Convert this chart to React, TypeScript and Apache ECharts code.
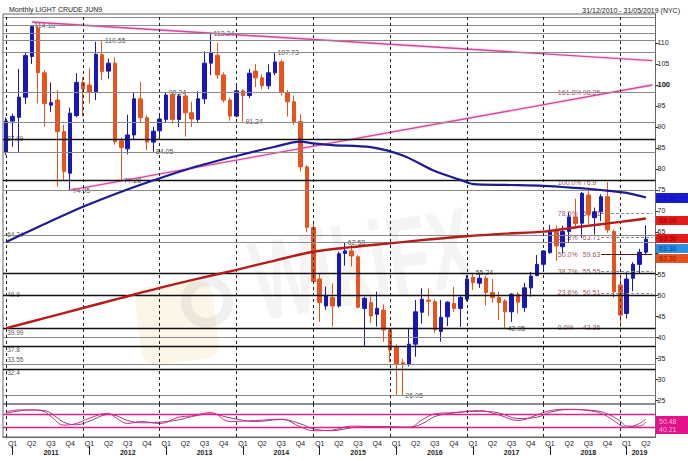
import React, { useEffect, useRef } from 'react';
import * as echarts from 'echarts';

// ---------- categories: monthly, Dec 2010 .. May 2019 ----------
const categories: string[] = [];
for (let k = 0; k < 102; k++) {
  const m = (11 + k) % 12;
  const y = 2010 + Math.floor((11 + k) / 12);
  categories.push(`${y}-${String(m + 1).padStart(2, '0')}`);
}

// ---------- candles: [open, close, low, high] ----------
const candles: number[][] = [
  [84.0, 91.4, 83.3, 92.3], [91.4, 92.5, 85.3, 93.2], [92.3, 97.1, 84.1, 103.8], [97.1, 107.0, 95.5, 107.6],
  [106.8, 113.9, 105.0, 114.0], [113.5, 102.9, 95.6, 114.18], [102.9, 95.6, 90.1, 103.5], [95.2, 95.8, 93.6, 100.6],
  [96.4, 88.9, 75.8, 98.8], [88.9, 79.4, 77.2, 90.5], [79.0, 93.3, 74.95, 94.6], [92.7, 100.6, 92.3, 102.8],
  [100.6, 99.05, 92.5, 101.8], [100.0, 98.3, 95.6, 104.0], [98.4, 107.3, 96.4, 110.3], [107.2, 103.2, 101.2, 110.55],
  [103.3, 105.2, 101.5, 106.3], [105.2, 86.5, 85.8, 106.6], [86.7, 85.1, 77.28, 87.5], [84.8, 88.1, 83.5, 92.9],
  [88.1, 96.7, 87.0, 98.3], [96.7, 92.2, 91.0, 100.8], [92.2, 86.4, 84.5, 92.8], [86.4, 89.0, 84.05, 90.0],
  [89.1, 91.9, 87.0, 93.0], [91.8, 97.6, 91.0, 98.24], [97.6, 91.8, 90.8, 98.0], [91.8, 97.4, 90.0, 97.8],
  [97.4, 93.4, 87.7, 97.8], [93.4, 91.9, 90.0, 96.0], [91.8, 96.7, 91.0, 98.5], [96.7, 105.2, 95.5, 108.0],
  [105.2, 107.7, 102.3, 112.24], [107.1, 102.4, 101.5, 110.0], [102.4, 96.4, 95.8, 103.0], [96.4, 92.6, 91.5, 97.0],
  [92.6, 98.6, 92.3, 100.0], [98.6, 97.5, 91.24, 99.0], [97.5, 102.8, 96.9, 103.8], [103.3, 101.7, 99.5, 105.0],
  [101.7, 99.8, 99.0, 102.5], [99.8, 102.9, 99.0, 104.9], [102.9, 105.5, 102.3, 107.73], [105.5, 98.2, 97.5, 106.0],
  [98.2, 96.0, 92.5, 98.8], [96.0, 91.3, 90.5, 97.5], [91.3, 80.5, 79.4, 93.1], [80.5, 66.1, 65.0, 80.9],
  [66.1, 53.2, 52.5, 67.0], [53.8, 48.2, 43.6, 55.0], [47.4, 49.8, 46.5, 52.0], [49.4, 47.4, 42.5, 52.8],
  [47.4, 59.8, 47.0, 60.3], [59.9, 60.5, 57.0, 62.58], [60.5, 59.3, 56.8, 61.9], [59.1, 47.1, 46.8, 59.5],
  [46.8, 49.2, 37.9, 49.6], [48.2, 45.0, 43.3, 49.6], [45.4, 46.8, 42.5, 50.8], [46.4, 41.7, 38.9, 47.8],
  [41.7, 36.9, 34.0, 42.0], [37.7, 33.6, 26.2, 38.3], [33.9, 33.6, 26.05, 34.8], [33.6, 38.3, 33.0, 42.0],
  [38.3, 46.0, 35.3, 48.8], [45.9, 49.0, 43.2, 51.6], [48.8, 48.5, 45.0, 51.6], [48.4, 41.7, 41.0, 49.0],
  [41.3, 44.7, 38.9, 48.8], [44.8, 48.3, 42.6, 48.5], [48.0, 46.8, 46.0, 51.9], [46.8, 49.4, 42.4, 49.8],
  [49.0, 53.8, 48.5, 54.7], [54.2, 53.0, 51.2, 55.24], [52.8, 54.0, 51.7, 54.9], [54.0, 50.6, 47.5, 54.6],
  [50.6, 49.4, 48.2, 53.8], [49.4, 48.2, 44.0, 50.8], [48.6, 46.0, 42.05, 49.0], [46.0, 50.2, 43.6, 50.4],
  [50.2, 48.3, 45.6, 50.7], [47.0, 51.7, 46.0, 52.9], [51.7, 54.5, 49.6, 55.5], [54.6, 57.3, 54.5, 59.5],
  [57.3, 60.5, 56.2, 60.6], [60.1, 65.4, 59.8, 66.7], [65.1, 61.7, 58.1, 66.6], [61.5, 65.1, 59.9, 66.5],
  [65.1, 68.6, 62.5, 69.6], [68.6, 67.0, 65.8, 72.9], [67.1, 74.2, 63.6, 74.5], [73.8, 69.2, 67.0, 75.3],
  [68.4, 69.8, 64.4, 70.8], [69.8, 73.4, 67.6, 74.0], [73.4, 65.5, 64.8, 76.9], [65.1, 50.8, 49.4, 65.6],
  [52.4, 45.2, 42.36, 54.6], [45.6, 53.8, 44.4, 55.4], [54.0, 57.3, 50.9, 57.8], [57.3, 60.2, 55.0, 61.0],
  [60.2, 63.3, 59.6, 66.6],
];

// ---------- moving averages (sampled, [monthIndex, value]) ----------
const blueMA: number[][] = [
  [0, 62.6], [6, 66.9], [12, 71.0], [18, 74.6], [24, 77.8], [30, 80.7], [36, 83.1], [42, 85.3], [46, 86.5],
  [48, 86.1], [51, 85.7], [57, 85.2], [62, 83.2], [67, 79.5], [71, 77.4], [73, 76.4], [78, 76.2], [84, 76.0],
  [89, 75.5], [93, 75.0], [97, 74.3], [100, 73.2],
];
const redMA: number[][] = [
  [0, 42.1], [6, 44.5], [12, 46.9], [18, 49.3], [24, 51.7], [30, 53.9], [36, 56.0], [42, 58.2], [48, 60.3],
  [54, 61.4], [60, 62.3], [66, 63.2], [72, 64.0], [78, 64.6], [84, 65.1], [90, 66.3], [96, 67.4], [100, 68.2],
];

// ---------- trend lines ----------
const topTrend: number[][] = [[4, 115.0], [101, 105.8]];
const riseTrend: number[][] = [[10, 74.95], [101, 100.0]];

// ---------- horizontal levels ----------
const blackLevels = [87.09, 77.28, 55.24, 49.9, 42.05, 37.8, 32.4];
const greyLevels = [116.1, 114.18, 112.24, 110.55, 107.73, 98.24, 91.24, 84.05, 74.95, 64.24, 62.58, 39.99, 33.55, 26.05];
const leftLabels = [87.09, 64.24, 49.9, 39.99, 37.8, 33.55, 32.4];
const leftAbove = [33.55, 39.99];
const leftBelow = [32.4, 37.8];
const peakLabels: [number, number][] = [
  [4, 114.18], [15, 110.55], [32, 112.24], [42, 107.73], [25, 98.24], [37, 91.24], [23, 84.05],
  [18, 77.28], [10, 74.95], [53, 62.58], [62, 26.05], [73, 55.24], [78, 42.05],
];

// ---------- Fibonacci ----------
const fibPct = ['161.8%', '100.0%', '78.6%', '61.8%', '50.0%', '38.2%', '23.6%', '0.0%'];
const fibVal = [98.25, 76.9, 69.51, 63.71, 59.63, 55.55, 50.51, 42.36];
const fibDashed = [69.51, 63.71, 55.55, 50.51];
const fibSolid = [59.63];

// ---------- oscillator (sampled) ----------
const oscK: number[][] = [
  [0, 76], [2, 82], [4, 82], [6, 77], [7, 62], [9, 36], [11, 41], [13, 57], [16, 72], [17, 60], [19, 41],
  [21, 47], [24, 41], [27, 60], [29, 64], [32, 74], [35, 47], [39, 50], [43, 54], [46, 31], [48, 19], [51, 21],
  [54, 33], [58, 31], [63, 29], [65, 52], [67, 70], [70, 74], [74, 80], [77, 67], [80, 50], [83, 67], [85, 80],
  [88, 84], [92, 77], [94, 62], [96, 36], [97, 29], [99, 41], [100, 54],
];
const oscD: number[][] = [
  [0, 72], [2, 79], [4, 82], [6, 80], [7, 72], [9, 45], [11, 37], [13, 48], [16, 68], [17, 66], [19, 50],
  [21, 43], [24, 45], [27, 52], [29, 62], [32, 70], [35, 58], [39, 47], [43, 53], [46, 40], [48, 25], [51, 19],
  [54, 28], [58, 32], [63, 30], [65, 40], [67, 62], [70, 73], [74, 78], [77, 73], [80, 56], [83, 60], [85, 75],
  [88, 83], [92, 80], [94, 70], [96, 48], [97, 33], [99, 33], [100, 45],
];
const oscLevels = [70, 30];

const priceTicks = [25, 30, 35, 40, 45, 50, 55, 60, 65, 70, 75, 80, 85, 90, 95, 100, 105, 110];
const priceLabels = [25, 30, 35, 40, 45, 50, 55, 65, 70, 75, 80, 85, 90, 95, 100, 105, 110];

const decIdx = [0, 12, 24, 36, 48, 60, 72, 84, 96];

const FONT = '"Liberation Sans", Arial, sans-serif';

export default function App() {
  const ref = useRef<HTMLDivElement>(null);
  useEffect(() => {
    document.body.style.margin = '0';
    const chart = echarts.init(ref.current!, null, { renderer: 'svg' });
    const month = (i: number) => parseInt(categories[i].slice(5), 10);
    const year = (i: number) => categories[i].slice(0, 4);

    const yearLines = decIdx.map((i) => ({ xAxis: categories[i] }));

    const hLines = [
      ...blackLevels.map((v) => ({ yAxis: v, lineStyle: { color: '#111', width: 1.4, type: 'solid' } })),
      ...greyLevels.map((v) => ({ yAxis: v, lineStyle: { color: '#8a8a8a', width: 1, type: 'solid' } })),
    ];
    const fibLines: any[] = [
      ...fibDashed.map((v) => [
        { coord: [categories[93], v], lineStyle: { color: '#888', width: 1, type: [3, 2] } },
        { coord: [categories[101], v] },
      ]),
      ...fibSolid.map((v) => [
        { coord: [categories[93], v], lineStyle: { color: '#5a1414', width: 1.2, type: 'solid' } },
        { coord: [categories[101], v] },
      ]),
    ];

    const leftPos = (v: number): any =>
      leftAbove.includes(v) ? [1.5, -8] : leftBelow.includes(v) ? [1.5, 0.5] : [1.5, -4];

    const labelData: any[] = [
      ...peakLabels.map(([i, v]) => ({
        value: [i, v],
        label: { formatter: v.toFixed(2), position: 'right', distance: 1 },
      })),
      ...leftLabels.map((v) => ({
        value: [0, v],
        label: {
          formatter: String(v), position: leftPos(v), align: 'left', verticalAlign: 'top',
          backgroundColor: 'transparent', padding: 0, fontSize: 6.5,
        },
      })),
      ...fibPct.map((p, k) => ({
        value: [86, fibVal[k]],
        label: {
          formatter: `{a|${p}}{b|${fibVal[k]}}`,
          position: 'right',
          distance: 0,
          backgroundColor: 'transparent',
          rich: {
            a: { width: 25, color: '#8b1c2c', fontSize: 7, fontFamily: FONT },
            b: { color: '#8b1c2c', fontSize: 7, fontFamily: FONT },
          },
        },
      })),
    ];

    const option: any = {
      animation: false,
      backgroundColor: '#ffffff',
      title: [
        { text: 'Monthly LIGHT CRUDE JUN9', left: 4, top: 1, textStyle: { fontSize: 7, fontWeight: 'normal', color: '#222', fontFamily: FONT } },
        { text: '31/12/2010 - 31/05/2019 (NYC)', right: 3, top: 2, textStyle: { fontSize: 7, fontWeight: 'normal', color: '#222', fontFamily: FONT } },
      ],
      grid: [
        { left: 3, right: 32.5, top: 14, height: 390, show: true, borderColor: '#666', borderWidth: 1, backgroundColor: 'transparent' },
        { left: 3, right: 32.5, top: 404, height: 33, show: true, borderColor: '#666', borderWidth: 1, backgroundColor: 'transparent' },
      ],
      xAxis: [
        {
          type: 'category', gridIndex: 0, data: categories, boundaryGap: true,
          axisLine: { show: false }, axisTick: { show: false }, axisLabel: { show: false }, splitLine: { show: false },
        },
        {
          type: 'category', gridIndex: 1, data: categories, boundaryGap: true, position: 'bottom',
          axisLine: { show: true, lineStyle: { color: '#666' } }, axisTick: { show: false },
          axisLabel: {
            interval: 0, margin: 3, fontSize: 7, color: '#222', fontFamily: FONT,
            formatter: (_v: string, i: number) => {
              const m = month(i);
              return m === 1 ? 'Q1' : m === 4 ? 'Q2' : m === 7 ? 'Q3' : m === 10 ? 'Q4' : '';
            },
          },
        },
        {
          type: 'category', gridIndex: 1, data: categories, boundaryGap: true, position: 'bottom', offset: 9,
          axisLine: { show: false },
          axisTick: { show: true, alignWithLabel: true, length: 9, interval: (i: number) => month(i) === 1, lineStyle: { color: '#222' } },
          axisLabel: {
            interval: 0, margin: 3, fontSize: 7, fontWeight: 'bold', color: '#222', fontFamily: FONT,
            formatter: (_v: string, i: number) => {
              const y = year(i);
              const target = y === '2019' ? 3 : 7;
              return month(i) === target ? y : '';
            },
          },
        },
      ],
      yAxis: [
        {
          type: 'value', gridIndex: 0, position: 'right', min: 24.05, max: 116.9, scale: true,
          axisLine: { show: true, lineStyle: { color: '#666' } },
          axisTick: { show: true, length: 3, lineStyle: { color: '#333' }, customValues: priceTicks },
          axisLabel: {
            margin: 2, fontSize: 7, color: '#222', fontFamily: FONT,
            customValues: priceLabels,
            formatter: (v: number) => (v === 100 ? '{b|100}' : String(v)),
            rich: { b: { fontWeight: 'bold', fontSize: 7.5, color: '#111', fontFamily: FONT } },
          },
          splitLine: { show: false },
        },
        {
          type: 'value', gridIndex: 1, position: 'right', min: 0, max: 100,
          axisLine: { show: false }, axisTick: { show: false }, axisLabel: { show: false }, splitLine: { show: false },
        },
      ],
      series: [
        {
          type: 'scatter', name: 'labels', xAxisIndex: 0, yAxisIndex: 0, z: 1,
          symbolSize: 1, itemStyle: { color: 'rgba(0,0,0,0)' }, silent: true,
          label: { show: true, fontSize: 7, color: '#1a1a1a', fontFamily: FONT, backgroundColor: '#fff', padding: [0, 1] },
          labelLayout: { hideOverlap: false },
          data: labelData,
          markLine: {
            silent: true, symbol: ['none', 'none'], label: { show: false },
            data: [
              ...hLines,
              ...fibLines,
              ...yearLines.map((d) => ({ ...d, lineStyle: { color: '#222', width: 1, type: [3, 3] } })),
            ],
          },
        },
        {
          type: 'candlestick', name: 'price', xAxisIndex: 0, yAxisIndex: 0, z: 3, barWidth: 4,
          data: candles,
          itemStyle: { color: '#1818b8', color0: '#e6531d', borderColor: '#1818b8', borderColor0: '#e6531d', borderWidth: 1 },
        },
        {
          type: 'line', name: 'trendTop', xAxisIndex: 0, yAxisIndex: 0, z: 4, data: topTrend,
          symbol: 'none', lineStyle: { color: '#d24a9c', width: 1.4, shadowColor: 'rgba(230,120,190,0.6)', shadowBlur: 2 },
        },
        {
          type: 'line', name: 'trendRise', xAxisIndex: 0, yAxisIndex: 0, z: 4, data: riseTrend,
          symbol: 'none', lineStyle: { color: '#d24a9c', width: 1.3, shadowColor: 'rgba(230,120,190,0.6)', shadowBlur: 2 },
        },
        {
          type: 'line', name: 'maBlue', xAxisIndex: 0, yAxisIndex: 0, z: 5, data: blueMA, smooth: 0.3,
          symbol: 'none', lineStyle: { color: '#1b1b92', width: 2.2 },
        },
        {
          type: 'line', name: 'maRed', xAxisIndex: 0, yAxisIndex: 0, z: 5, data: redMA, smooth: 0.3,
          symbol: 'none', lineStyle: { color: '#b51d1d', width: 2.4 },
        },
        {
          type: 'line', name: 'oscD', xAxisIndex: 1, yAxisIndex: 1, z: 3, data: oscD, smooth: 0.4,
          symbol: 'none', lineStyle: { color: '#5c1f55', width: 0.8 },
          markLine: {
            silent: true, symbol: ['none', 'none'], label: { show: false },
            data: [
              ...oscLevels.map((v) => ({ yAxis: v, lineStyle: { color: '#e0208a', width: 1.3, type: 'solid' } })),
              ...yearLines.map((d) => ({ ...d, lineStyle: { color: '#222', width: 1, type: [3, 3] } })),
            ],
          },
        },
        {
          type: 'line', name: 'oscK', xAxisIndex: 1, yAxisIndex: 1, z: 4, data: oscK, smooth: 0.4,
          symbol: 'none', lineStyle: { color: '#e0208a', width: 1 },
        },
      ],
      graphic: [
        // watermark
        {
          type: 'rect', x: 168, y: 262, shape: { width: 78, height: 78, r: 14 }, rotation: 0.12, originX: 207, originY: 301,
          style: { fill: 'rgba(238,200,110,0.16)' }, z: 0, silent: true,
        },
        {
          type: 'ring', shape: { cx: 207, cy: 302, r: 26, r0: 16 }, style: { fill: 'rgba(90,90,90,0.09)' }, z: 0, silent: true,
        },
        {
          type: 'text', x: 262, y: 338, rotation: 0.17, scaleX: 0.6, z: 0, silent: true,
          style: { text: 'WikiFX', font: `bold 112px ${FONT}`, fill: 'rgba(60,60,60,0.06)', verticalAlign: 'bottom' },
        },
        // price boxes
        ...[
          { y: 193, h: 10, fill: '#1a1ad6', text: '73.31', color: '#0c0c90' },
          { y: 216, h: 9, fill: '#e31b1b', text: '68.00', color: '#8b0000' },
          { y: 234, h: 9, fill: '#e31b1b', text: '63.30', color: '#8b0000' },
          { y: 244, h: 9, fill: '#2c8fe0', text: '63.30', color: '#0b3d80' },
          { y: 254, h: 9, fill: '#e8501e', text: '63.30', color: '#8b2000' },
        ].flatMap((b) => [
          { type: 'rect', x: 656, y: b.y, shape: { width: 32, height: b.h }, style: { fill: b.fill }, z: 100 },
          {
            type: 'text', x: 659, y: b.y + b.h / 2, z: 101,
            style: { text: b.text, font: `7px ${FONT}`, fill: b.color, verticalAlign: 'middle' },
          },
        ]),
        { type: 'rect', x: 656, y: 416, shape: { width: 32, height: 18 }, style: { fill: '#e3128a' }, z: 100 },
        { type: 'text', x: 659, y: 421, z: 101, style: { text: '50.48', font: `7px ${FONT}`, fill: '#f7b6d8', verticalAlign: 'middle' } },
        { type: 'text', x: 659, y: 429, z: 101, style: { text: '40.21', font: `7px ${FONT}`, fill: '#f7b6d8', verticalAlign: 'middle' } },
      ],
    };
    chart.setOption(option);
    return () => chart.dispose();
  }, []);
  return <div ref={ref} style={{ width: 688, height: 461 }} />;
}
